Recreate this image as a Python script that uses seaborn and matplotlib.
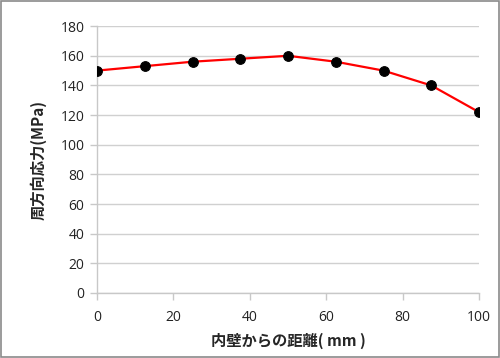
import matplotlib
matplotlib.use("Agg")
import matplotlib.pyplot as plt
import seaborn as sns
import pandas as pd
from matplotlib.patches import Rectangle

distance = [0, 12.5, 25, 37.5, 50, 62.5, 75, 87.5, 100]
stress = [150, 153, 156, 158, 160, 156, 150, 140, 122]
x_ticks = [0, 20, 40, 60, 80, 100]
y_ticks = [0, 20, 40, 60, 80, 100, 120, 140, 160, 180]

sns.set_theme(style="white")
plt.rcParams['font.family'] = ['Noto Sans CJK JP', 'DejaVu Sans']

df = pd.DataFrame({"x": distance, "y": stress})

fig = plt.figure(figsize=(5.0, 3.58), dpi=100)
ax = fig.add_axes([0.194, 0.1816, 0.764, 0.7454])

sns.lineplot(data=df, x="x", y="y", ax=ax, color="#ff0000", linewidth=1.6,
             marker="o", markersize=7, markerfacecolor="black",
             markeredgecolor="black", zorder=3)

ax.set_xlim(0, 100)
ax.set_ylim(0, 180)
ax.set_xticks(x_ticks)
ax.set_yticks(y_ticks)
ax.set_xticklabels([str(v) for v in x_ticks], fontsize=10, color="#222222", family="Open Sans")
ax.set_yticklabels([str(v) for v in y_ticks], fontsize=10, color="#222222", family="Open Sans")
ax.yaxis.grid(True, color="#d0d0d0", linewidth=1)
ax.xaxis.grid(False)
ax.set_axisbelow(True)
for s in ["top", "right"]:
    ax.spines[s].set_visible(False)
for s in ["left", "bottom"]:
    ax.spines[s].set_color("#c8c8c8")
    ax.spines[s].set_linewidth(1)
ax.tick_params(axis="both", which="major", direction="out", length=5,
               width=1, color="#c8c8c8", left=True, bottom=True)
ax.tick_params(axis="x", pad=7)
ax.tick_params(axis="y", pad=4)

ax.set_xlabel("内壁からの距離( mm )", fontsize=11, fontweight="bold", labelpad=6)
ax.set_ylabel("周方向応力(MPa)", fontsize=11, fontweight="bold", labelpad=10)

fig.patches.append(Rectangle((0.002, 0.003), 0.996, 0.994, transform=fig.transFigure,
                             fill=False, edgecolor="#8a8a8a", linewidth=1.2))

fig.savefig("out.png", dpi=100)
